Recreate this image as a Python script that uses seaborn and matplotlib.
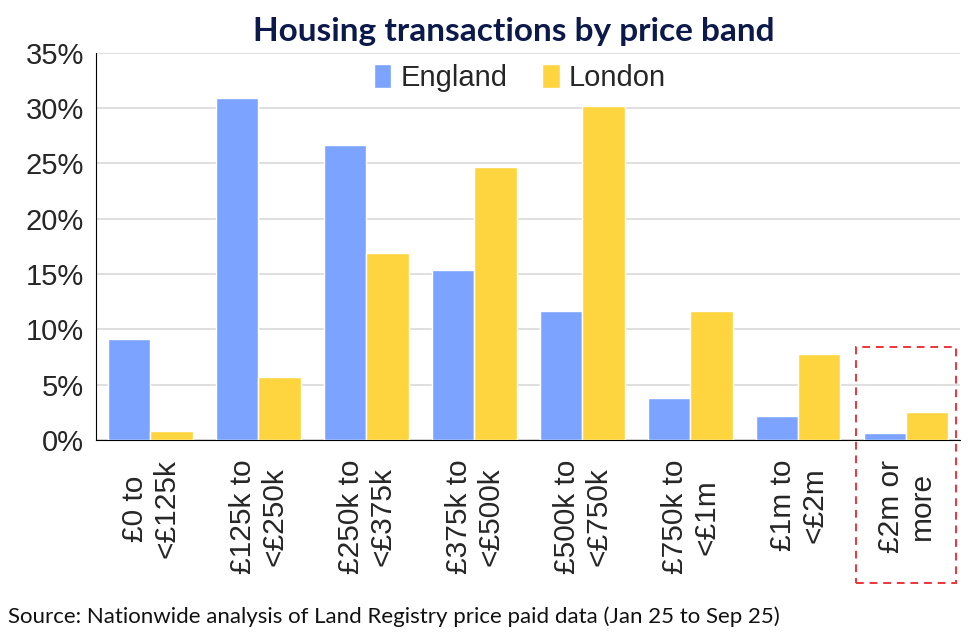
import pandas as pd
import seaborn as sns
import matplotlib.pyplot as plt
from matplotlib.patches import Rectangle

bands = ["£0 to\n<£125k", "£125k to\n<£250k", "£250k to\n<£375k", "£375k to\n<£500k",
         "£500k to\n<£750k", "£750k to\n<£1m", "£1m to\n<£2m", "£2m or\nmore"]
england = [9.1, 30.9, 26.7, 15.4, 11.7, 3.8, 2.2, 0.6]
london = [0.8, 5.7, 16.9, 24.7, 30.2, 11.7, 7.8, 2.5]

df = pd.DataFrame({"band": bands * 2,
                   "share": england + london,
                   "region": ["England"] * len(bands) + ["London"] * len(bands)})

sns.set_style("white")
plt.rcParams["font.family"] = ["Liberation Sans", "DejaVu Sans"]

fig = plt.figure(figsize=(9.74, 6.36), dpi=100)
ax = fig.add_axes([0.099, 0.308, 0.887, 0.609])

sns.barplot(data=df, x="band", y="share", hue="region", ax=ax,
            palette={"England": "#7ba3ff", "London": "#ffd53f"}, saturation=1,
            width=0.78, edgecolor="white", linewidth=1, zorder=3)

ax.set_ylim(0, 35)
ax.set_yticks(range(0, 36, 5))
ax.set_yticklabels([f"{v}%" for v in range(0, 36, 5)], fontsize=21)
ax.set_xlim(-0.5, 7.5)
ax.set_xlabel("")
ax.set_ylabel("")
ax.grid(axis="y", color="#d9d9d9", linewidth=1.2, zorder=0)
for s in ["top", "right"]:
    ax.spines[s].set_visible(False)
ax.spines["left"].set_color("black")
ax.spines["bottom"].set_color("black")
ax.tick_params(axis="y", length=6, color="black", pad=3)
ax.tick_params(axis="x", length=0, pad=14)
for lab in ax.get_xticklabels():
    lab.set_rotation(90)
    lab.set_fontsize(21.5)
    lab.set_ha("center")
    lab.set_va("top")
    lab.set_multialignment("center")
    lab.set_linespacing(1.15)

ax.legend(loc="upper center", bbox_to_anchor=(0.49, 1.04), ncol=2, frameon=False,
          fontsize=21, handlelength=0.6, handleheight=0.9, handletextpad=0.3,
          columnspacing=1.2)

fig.text(0.527, 0.95, "Housing transactions by price band", ha="center", va="center",
         fontsize=24, fontweight="bold", color="#0b1a4a", family=["Lato", "DejaVu Sans"])
fig.text(0.008, 0.03, "Source: Nationwide analysis of Land Registry price paid data (Jan 25 to Sep 25)",
         ha="left", va="center", fontsize=16, color="#111111", family=["Lato", "DejaVu Sans"])

box = Rectangle((856 / 974, 1 - 583 / 636), 100 / 974, 236 / 636,
                transform=fig.transFigure, fill=False, edgecolor="#f0343a",
                linestyle=(0, (4, 3)), linewidth=1.4, clip_on=False)
fig.patches.append(box)

fig.savefig("out.png", dpi=100)
